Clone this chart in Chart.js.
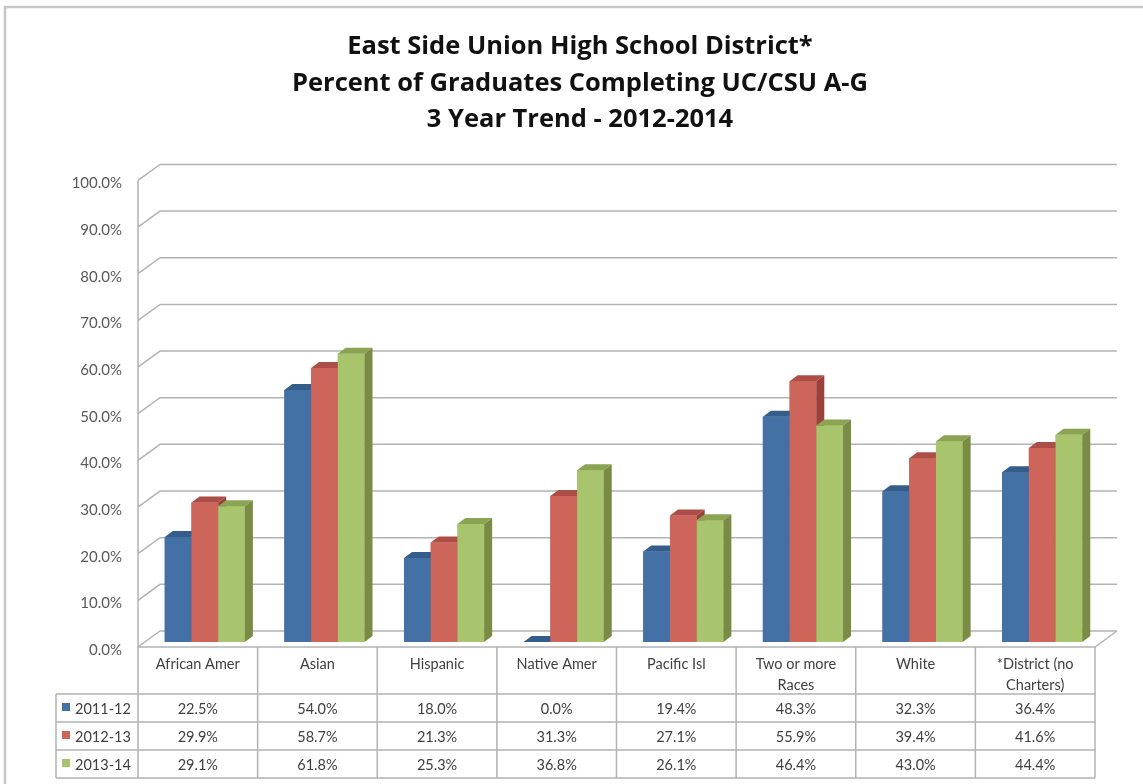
<!DOCTYPE html>
<html>
<head>
<meta charset="utf-8">
<script src="https://cdn.jsdelivr.net/npm/chart.js@4.4.0/dist/chart.umd.min.js"></script>
<style>
    body { margin: 0; background: #ffffff; }
    #wrap { position: relative; width: 1143px; height: 784px; }
</style>
</head>
<body>
<div id="wrap"><canvas id="gradChart" width="1143" height="784"></canvas></div>
<script>
// Categories (table header labels)
const categories = [
    'African Amer', 'Asian', 'Hispanic', 'Native Amer', 'Pacific Isl',
    ['Two or more', 'Races'], 'White', ['*District (no', 'Charters)']
];

// Series values (percent)
const values2011 = [22.5, 54.0, 18.0, 0.0, 19.4, 48.3, 32.3, 36.4];
const values2012 = [29.9, 58.7, 21.3, 31.3, 27.1, 55.9, 39.4, 41.6];
const values2013 = [29.1, 61.8, 25.3, 36.8, 26.1, 46.4, 43.0, 44.4];
const seriesLabels = ['2011-12', '2012-13', '2013-14'];

// Y axis ticks
const yTicks = [0, 10, 20, 30, 40, 50, 60, 70, 80, 90, 100];

const titleLines = [
    'East Side Union High School District*',
    'Percent of Graduates Completing UC/CSU A-G',
    '3 Year Trend - 2012-2014'
];

// colours: front, top, side
const frontColors = ['#4471a5', '#cd655b', '#a8c46c'];
const topColors = ['#355d8b', '#ad4e46', '#8ba454'];
const sideColors = ['#2e5382', '#9b413b', '#7a8b45'];

const gridColor = '#b3b3b3';
const textColor = '#404040';
const DEPTH_X = 22, DEPTH_Y = -16;   // wall depth
const BAR_DX = 8, BAR_DY = -6;       // bar depth
const BAR_SHIFT_X = 7, BAR_SHIFT_Y = -5;
const HEADER_H = 47, ROW_H = 28, LEGEND_LEFT = 56;

// frame and 3D walls / gridlines
const wallPlugin = {
    id: 'wall',
    beforeDraw(chart) {
        const ctx = chart.ctx;
        ctx.save();
        ctx.strokeStyle = '#c6c6c6';
        ctx.lineWidth = 2.5;
        ctx.beginPath();
        ctx.moveTo(5, 784);
        ctx.lineTo(5, 7);
        ctx.lineTo(1143, 7);
        ctx.stroke();
        ctx.restore();
    },
    beforeDatasetsDraw(chart) {
        const ctx = chart.ctx;
        const area = chart.chartArea;
        const y = chart.scales.y;
        ctx.save();
        ctx.strokeStyle = gridColor;
        ctx.lineWidth = 1.5;
        yTicks.forEach(v => {
            const py = y.getPixelForValue(v);
            ctx.beginPath();
            ctx.moveTo(area.left, py);
            ctx.lineTo(area.left + DEPTH_X, py + DEPTH_Y);
            ctx.lineTo(area.right + DEPTH_X, py + DEPTH_Y);
            ctx.stroke();
        });
        // front axis line and floor edge
        ctx.beginPath();
        ctx.moveTo(area.left, y.getPixelForValue(100));
        ctx.lineTo(area.left, area.bottom);
        ctx.lineTo(area.right, area.bottom);
        ctx.lineTo(area.right + DEPTH_X, area.bottom + DEPTH_Y);
        ctx.stroke();
        ctx.restore();

        // bars sit half way into the depth
        ctx.save();
        ctx.translate(BAR_SHIFT_X, BAR_SHIFT_Y);
    },
    afterDatasetsDraw(chart) {
        const ctx = chart.ctx;
        // repaint bars with faces, left to right so sides hide properly
        for (let i = 0; i < categories.length; i++) {
            chart.data.datasets.forEach((ds, d) => {
                const bar = chart.getDatasetMeta(d).data[i];
                const left = bar.x - bar.width / 2;
                const right = bar.x + bar.width / 2;
                const top = bar.y, base = bar.base;
                ctx.fillStyle = frontColors[d];
                ctx.fillRect(left, top, right - left, base - top);
                ctx.fillStyle = topColors[d];
                ctx.beginPath();
                ctx.moveTo(left, top);
                ctx.lineTo(left + BAR_DX, top + BAR_DY);
                ctx.lineTo(right + BAR_DX, top + BAR_DY);
                ctx.lineTo(right, top);
                ctx.closePath();
                ctx.fill();
                ctx.fillStyle = sideColors[d];
                ctx.beginPath();
                ctx.moveTo(right, top);
                ctx.lineTo(right + BAR_DX, top + BAR_DY);
                ctx.lineTo(right + BAR_DX, base + BAR_DY);
                ctx.lineTo(right, base);
                ctx.closePath();
                ctx.fill();
            });
        }
        ctx.restore();
    }
};

// data table under the plot
const tablePlugin = {
    id: 'dataTable',
    afterDraw(chart) {
        const ctx = chart.ctx;
        const area = chart.chartArea;
        const x = chart.scales.x;
        const colW = (area.right - area.left) / categories.length;
        const top = area.bottom;
        const headBottom = top + HEADER_H;
        const bottom = headBottom + ROW_H * seriesLabels.length;
        const rows = [values2011, values2012, values2013];

        ctx.save();
        ctx.strokeStyle = gridColor;
        ctx.lineWidth = 1.5;
        ctx.beginPath();
        for (let i = 0; i <= categories.length; i++) {
            const px = area.left + i * colW;
            ctx.moveTo(px, top);
            ctx.lineTo(px, bottom);
        }
        ctx.moveTo(LEGEND_LEFT, headBottom);
        ctx.lineTo(LEGEND_LEFT, bottom);
        for (let r = 0; r <= seriesLabels.length; r++) {
            const py = headBottom + r * ROW_H;
            ctx.moveTo(LEGEND_LEFT, py);
            ctx.lineTo(area.right, py);
        }
        ctx.stroke();

        ctx.fillStyle = textColor;
        ctx.font = '14.5px Lato';
        ctx.textAlign = 'center';
        ctx.textBaseline = 'middle';
        categories.forEach((cat, i) => {
            const cx = x.getPixelForValue(i);
            const lines = Array.isArray(cat) ? cat : [cat];
            lines.forEach((line, k) => ctx.fillText(line, cx, top + 17 + k * 21));
            rows.forEach((vals, r) => {
                ctx.fillText(vals[i].toFixed(1) + '%', cx, headBottom + r * ROW_H + ROW_H / 2 + 1);
            });
        });

        // legend keys
        ctx.textAlign = 'left';
        seriesLabels.forEach((label, r) => {
            const cy = headBottom + r * ROW_H + ROW_H / 2;
            ctx.fillStyle = frontColors[r];
            ctx.fillRect(62, cy - 5, 8, 8);
            ctx.fillStyle = textColor;
            ctx.fillText(label, 75, cy + 1);
        });
        ctx.restore();
    }
};

const ctx = document.getElementById('gradChart').getContext('2d');
new Chart(ctx, {
    type: 'bar',
    data: {
        labels: categories,
        datasets: [values2011, values2012, values2013].map((vals, d) => ({
            label: seriesLabels[d],
            data: vals,
            backgroundColor: frontColors[d],
            borderWidth: 0,
            categoryPercentage: 0.67,
            barPercentage: 1.0
        }))
    },
    options: {
        responsive: false,
        animation: false,
        layout: {
            padding: { left: 65, right: 48, top: 0, bottom: 137 }
        },
        plugins: {
            legend: { display: false },
            tooltip: { enabled: false },
            title: {
                display: true,
                text: titleLines,
                color: '#111111',
                font: { family: 'Open Sans', size: 25.5, weight: 'bold', lineHeight: 1.43 },
                padding: { top: 29, bottom: 42 }
            }
        },
        scales: {
            x: {
                display: false
            },
            y: {
                min: 0,
                max: 100,
                afterFit(scale) { scale.width = 73; },
                afterBuildTicks(scale) { scale.ticks = yTicks.map(v => ({ value: v })); },
                grid: { display: false },
                border: { display: false },
                ticks: {
                    color: '#595959',
                    font: { family: 'Lato', size: 15 },
                    padding: 8,
                    labelOffset: 3,
                    callback: v => v.toFixed(1) + '%'
                }
            }
        }
    },
    plugins: [wallPlugin, tablePlugin]
});
</script>
</body>
</html>
